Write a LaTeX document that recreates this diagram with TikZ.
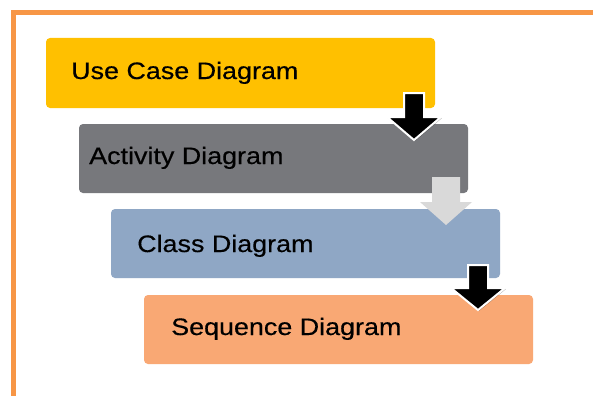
\documentclass[tikz,border=0pt]{standalone}
\usepackage{fontspec}
\setmainfont[FakeStretch=1.13,FakeBold=0.4]{Liberation Sans}
\usetikzlibrary{shadows}
\definecolor{frameor}{HTML}{F79646}
\definecolor{ucyellow}{HTML}{FFC000}
\definecolor{actgray}{HTML}{77787C}
\definecolor{clsblue}{HTML}{8FA7C5}
\definecolor{seqsalmon}{HTML}{F9A874}
\definecolor{lightarrow}{HTML}{D9D9D9}
\tikzset{
  stagebox/.style={rounded corners=4pt, inner sep=0pt, outer sep=0pt,
    minimum width=389pt, minimum height=69pt, anchor=north west},
  stagelbl/.style={font=\fontsize{23.8}{28}\selectfont, text=black, inner sep=0pt, anchor=base west},
  darkarrow/.style={fill=black, draw=white, line width=2pt, line join=miter,
    drop shadow={shadow xshift=0.8pt, shadow yshift=-1.2pt, opacity=0.3, fill=black}},
  palearrow/.style={fill=lightarrow, draw=none}
}
\begin{document}
\begin{tikzpicture}[x=1pt,y=-1pt]
\useasboundingbox (0,0) rectangle (593,396);
\fill[white] (0,0) rectangle (593,396);
% frame
\fill[frameor] (11,10) rectangle (593,15);
\fill[frameor] (11,10) rectangle (16,396);
% boxes
\node[stagebox, fill=ucyellow, minimum height=70pt] (uc) at (46,38) {};
\node[stagebox, fill=actgray] (act) at (79,124) {};
\node[stagebox, fill=clsblue] (cls) at (111,209) {};
\node[stagebox, fill=seqsalmon] (seq) at (144,295) {};
% labels
\node[stagelbl] (uct) at (71,79) {Use Case Diagram};
\node[stagelbl] (actt) at (89,164) {Activity Diagram};
\node[stagelbl] (clst) at (137,252) {Class Diagram};
\node[stagelbl] (seqt) at (171,335) {Sequence Diagram};
% arrows
\path[darkarrow] (404,93) -- (424,93) -- (424,117) -- (441,117) -- (414,140) -- (387,117) -- (404,117) -- cycle;
\path[palearrow] (432,177) -- (460,177) -- (460,202) -- (472,202) -- (446,225) -- (420,202) -- (432,202) -- cycle;
\path[darkarrow] (468,265) -- (488,265) -- (488,288) -- (505,288) -- (478,310) -- (451,288) -- (468,288) -- cycle;
\end{tikzpicture}
\end{document}
